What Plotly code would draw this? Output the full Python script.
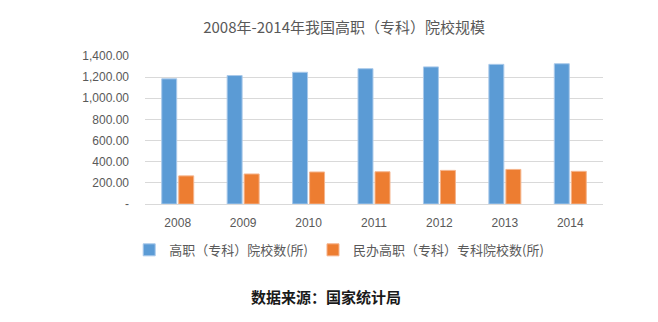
import plotly.graph_objects as go

# 2008-2014 higher vocational (specialist) colleges in China
years = ["2008", "2009", "2010", "2011", "2012", "2013", "2014"]
total_colleges = [1184, 1215, 1246, 1280, 1297, 1321, 1327]
private_colleges = [266, 284, 303, 305, 318, 327, 309]

series_names = ["高职（专科）院校数(所)", "民办高职（专科）专科院校数(所)"]
tick_values = [0, 200, 400, 600, 800, 1000, 1200, 1400]
tick_labels = ["-" if v == 0 else f"{v:,.2f}" for v in tick_values]

title_text = "2008年-2014年我国高职（专科）院校规模"
source_text = "数据来源：国家统计局"

BLUE = "#5B9BD5"
ORANGE = "#ED7D31"
GRID = "#D9D9D9"
TEXT = "#595959"
FONT = "Noto Sans CJK SC"

fig = go.Figure()
fig.add_trace(go.Bar(
    x=years, y=total_colleges, name=series_names[0],
    marker=dict(color=BLUE, line=dict(color="#A9C9EA", width=1)),
))
fig.add_trace(go.Bar(
    x=years, y=private_colleges, name=series_names[1],
    marker=dict(color=ORANGE, line=dict(color="#F5B48C", width=1)),
))

fig.update_layout(
    width=658, height=322,
    margin=dict(l=145, r=55, t=56, b=118),
    paper_bgcolor="white", plot_bgcolor="white",
    barmode="group", bargap=0.48, bargroupgap=0.12,
    font=dict(family=FONT, color=TEXT, size=12),
    title=dict(
        text=title_text, x=0.523, xref="container", xanchor="center",
        y=1 - 28 / 322, yref="container", yanchor="middle",
        font=dict(family=FONT, size=15, color=TEXT),
    ),
    legend=dict(
        orientation="h", x=0.424, xanchor="center", y=-0.31, yanchor="middle",
        font=dict(family=FONT, size=13, color=TEXT),
        itemwidth=30, traceorder="normal",
    ),
    showlegend=True,
)

fig.update_xaxes(
    type="category", showgrid=False, zeroline=False,
    showline=True, linecolor=GRID, linewidth=1,
    ticks="", ticklabelstandoff=8,
    tickfont=dict(family="Liberation Sans", size=12, color=TEXT),
)
fig.update_yaxes(
    range=[0, 1400], tickvals=tick_values, ticktext=tick_labels,
    showgrid=True, gridcolor=GRID, gridwidth=1, zeroline=False,
    showline=False, ticks="", ticklabelstandoff=15,
    tickfont=dict(family="Liberation Sans", size=12, color=TEXT),
)

fig.add_annotation(
    text=source_text, xref="paper", yref="paper",
    x=0.395, y=-0.628, xanchor="center", yanchor="middle",
    showarrow=False,
    font=dict(family=FONT, size=15, color="#1A1A1A", weight="bold"),
)

fig.write_html("out.html")
